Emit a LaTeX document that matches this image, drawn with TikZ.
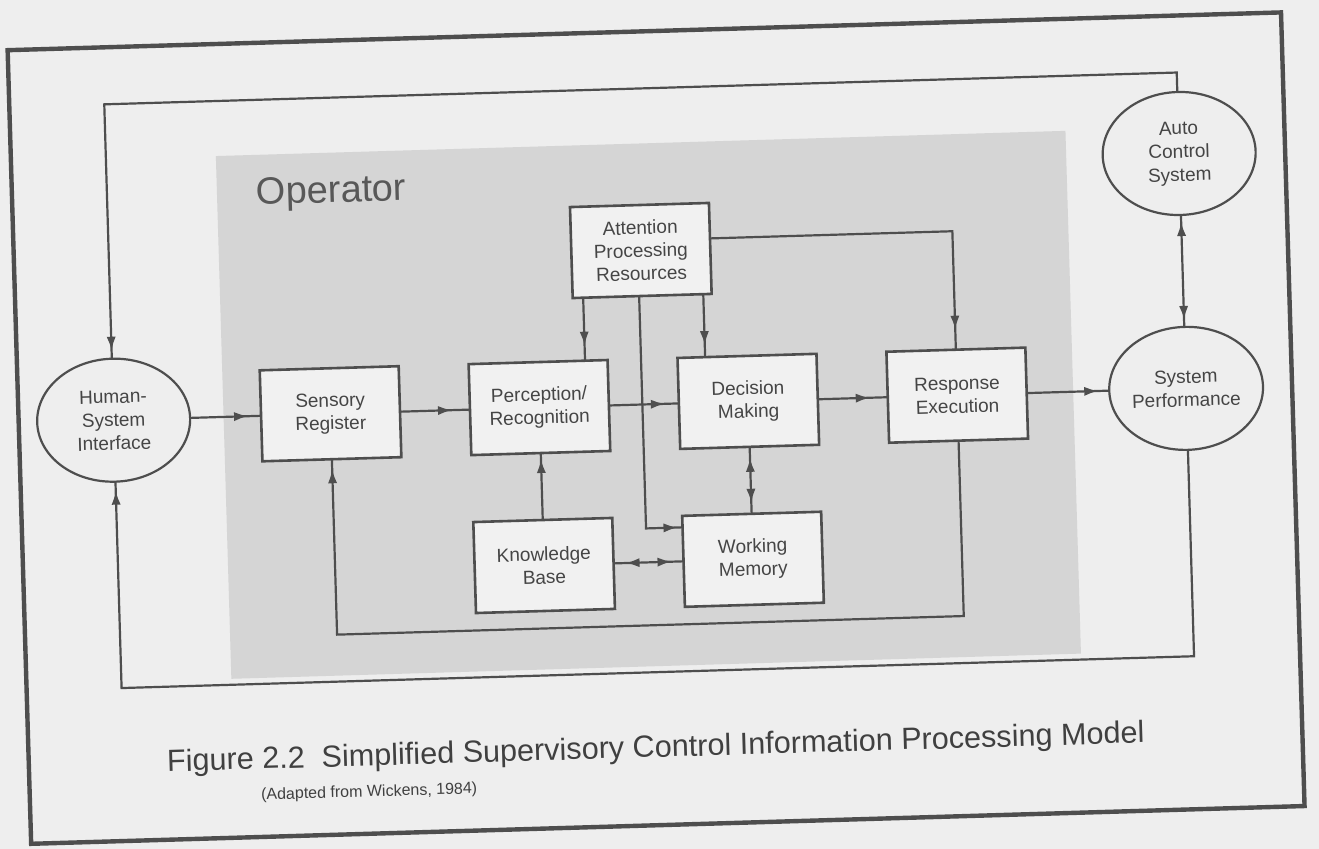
\documentclass[tikz,border=0pt]{standalone}
\usepackage{fontspec}
\setmainfont{Liberation Sans}
\usetikzlibrary{arrows.meta,decorations.markings,shapes.geometric,calc}
\definecolor{paper}{HTML}{EEEEEE}
\definecolor{opgray}{HTML}{D5D5D5}
\definecolor{boxfill}{HTML}{F1F1F1}
\definecolor{ink}{HTML}{4E4E4E}
\definecolor{txt}{HTML}{454545}
\definecolor{optxt}{HTML}{585858}
\definecolor{captxt}{HTML}{404040}
\tikzset{
  procbox/.style={draw=ink,line width=1.3pt,fill=boxfill,minimum width=69.5pt,minimum height=45.5pt,inner sep=0pt,outer sep=0pt,align=center,text=txt,font=\fontsize{9.5}{11.5}\selectfont},
  oval/.style={ellipse,draw=ink,line width=1.1pt,fill=paper,minimum width=76.5pt,minimum height=61.5pt,inner sep=0pt,outer sep=0pt,align=center,text=txt,font=\fontsize{9.5}{11.7}\selectfont},
  conn/.style={draw=ink,line width=1.1pt},
  tipend/.style={postaction={decorate,decoration={markings,mark=at position -#1 with {\arrow{Latex[length=7pt,width=4.6pt]}}}}},
  tipend/.default=6pt,
  tipboth/.style={postaction={decorate,decoration={markings,mark=at position #1 with {\arrowreversed{Latex[length=7pt,width=4.6pt]}},mark=at position -#1 with {\arrow{Latex[length=7pt,width=4.6pt]}}}}},
  tipboth/.default=6pt,
  label text/.style={anchor=base west,inner sep=0pt}
}
\begin{document}
\begin{tikzpicture}[x=0.5pt,y=-0.5pt]
\useasboundingbox (0,0) rectangle (1319,849);
\fill[paper] (0,0) rectangle (1319,849);
\begin{scope}[rotate around={1.7:(660,425)},transform shape]
  % operator area and frame
  \fill[opgray] (224,143) rectangle (1074,666);
  \draw[ink,line width=2.2pt] (19,31) rectangle (1293,825);
  \node[label text,text=optxt,font=\fontsize{19}{23}\selectfont] (oplabel) at (263,193) {Operator};

  % nodes
  \node[oval] (hsi) at (114,404) {Human-\\System\\Interface};
  \node[procbox] (sens) at (331,404) {Sensory\\Register};
  \node[procbox] (perc) at (540,404) {Perception/\\Recognition};
  \node[procbox] (dec) at (749,404) {Decision\\Making};
  \node[procbox] (resp) at (958,404) {Response\\Execution};
  \node[oval] (perf) at (1187,404) {System\\Performance};
  \node[oval] (auto) at (1187,169) {Auto\\Control\\System};
  \node[procbox] (att) at (646,250) {Attention\\Processing\\Resources};
  \node[procbox] (kb) at (540,562) {Knowledge\\Base};
  \node[procbox] (wm) at (749,562) {Working\\Memory};

  % outer loops
  \coordinate (tr) at (1187,88);
  \coordinate (tl) at (114,88);
  \draw[conn,tipend=4pt] (auto.north) -- (tr) -- (tl) -- (hsi.north);
  \coordinate (br) at (1187,672);
  \coordinate (bl) at (114,672);
  \draw[conn,tipend=4.5pt] (perf.south) -- (br) -- (bl) -- (hsi.south);
  \coordinate (rb) at (958,625);
  \coordinate (sb) at (331,625);
  \draw[conn,tipend=5pt] (resp.south) -- (rb) -- (sb) -- (sens.south);

  % attention connectors
  \coordinate (ae) at ($(att.north east)!0.39!(att.south east)$);
  \coordinate (ar) at (958,240);
  \draw[conn,tipend=10pt] (ae) -- (ar) -- (resp.north);
  \coordinate (am) at ($(att.south west)!0.4784!(att.south east)$);
  \coordinate (amc) at (643,528);
  \coordinate (wl) at ($(wm.north west)!0.1264!(wm.south west)$);
  \draw[conn,tipend=2.5pt] (am) -- (amc) -- (wl);
  \coordinate (ap) at ($(att.south west)!0.0755!(att.south east)$);
  \draw[conn,tipend=7.5pt] (ap) -- ($(perc.north west)!(ap)!(perc.north east)$);
  \coordinate (ad) at ($(att.south west)!0.94!(att.south east)$);
  \draw[conn,tipend=6pt] (ad) -- ($(dec.north west)!(ad)!(dec.north east)$);

  % main chain
  \draw[conn,tipend=6.5pt] (hsi) -- (sens);
  \draw[conn,tipend=9pt] (sens) -- (perc);
  \draw[conn,tipend=7pt] (perc) -- (dec);
  \draw[conn,tipend=9pt] (dec) -- (resp);
  \draw[conn,tipend=5.5pt] (resp) -- (perf);
  \draw[conn,tipend=3pt] (kb) -- (perc);
  \draw[conn,tipboth=6pt] (kb) -- (wm);
  \draw[conn,tipboth=5.5pt] (dec) -- (wm);
  \draw[conn,tipboth=3.5pt] (auto) -- (perf);

  % caption
  \node[label text,text=captxt,font=\fontsize{15.3}{18}\selectfont] (caption) at (157,757) {Figure 2.2\hspace{0.55em}Simplified Supervisory Control Information Processing Model};
  \node[label text,text=captxt,font=\fontsize{8}{10}\selectfont] (source) at (250,788) {(Adapted from Wickens, 1984)};
\end{scope}
\end{tikzpicture}
\end{document}
